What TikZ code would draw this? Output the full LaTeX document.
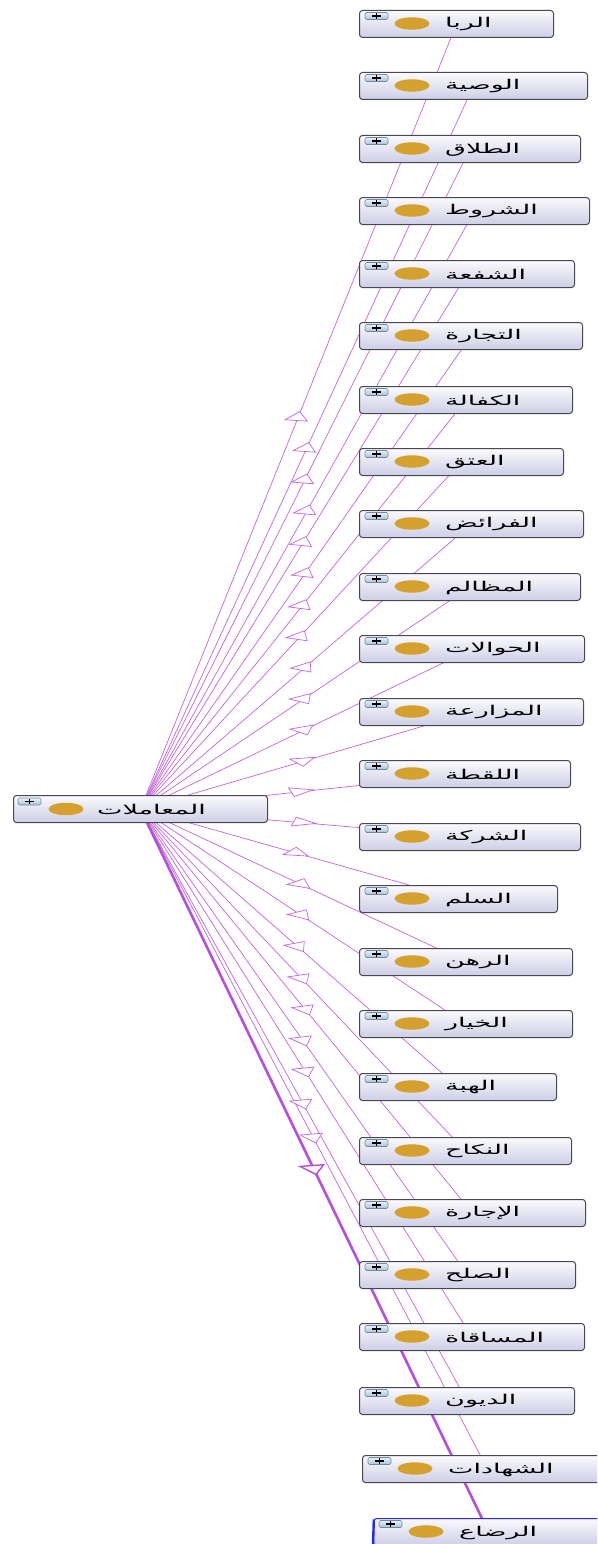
\documentclass[tikz,border=0pt]{standalone}
\usepackage{graphicx}
\usepackage{fontspec}
\newfontfamily\arabicfont[Script=Arabic]{DejaVu Sans}
\TeXXeTstate=1
\usetikzlibrary{calc,shapes.geometric}
\pgfdeclarelayer{back}
\pgfdeclarelayer{edges}
\pgfdeclarelayer{tris}
\pgfsetlayers{back,edges,tris,main}
\definecolor{edgec}{RGB}{195,100,228}
\definecolor{edgethick}{RGB}{182,78,222}
\definecolor{boxborder}{RGB}{72,72,82}
\definecolor{boxtop}{RGB}{250,250,253}
\definecolor{boxbot}{RGB}{206,206,230}
\definecolor{gold}{RGB}{212,160,46}
\definecolor{btntop}{RGB}{232,240,248}
\definecolor{btnbot}{RGB}{168,192,214}
\definecolor{btnborder}{RGB}{112,138,162}
\definecolor{selblue}{RGB}{40,40,250}
\tikzset{
  box/.style={draw=boxborder, line width=1pt, rounded corners=3pt,
    top color=boxtop, bottom color=boxbot, inner sep=0pt, anchor=north west,
    minimum height=27pt},
  btn/.style={draw=btnborder, line width=0.6pt, rounded corners=1.5pt,
    top color=btntop, bottom color=btnbot, inner sep=0pt,
    minimum width=23pt, minimum height=7pt,
    path picture={\draw[line width=1.2pt, black]
      (path picture bounding box.center) +(-4.5,0) -- +(4.5,0)
      (path picture bounding box.center) +(0,-2.6) -- +(0,2.6);}},
  dot/.style={ellipse, fill=gold, draw=none, inner sep=0pt,
    minimum width=35pt, minimum height=12.4pt},
  lbl/.style={anchor=west, inner sep=0pt, text=black,
    font=\arabicfont\fontsize{13.5}{15}\selectfont},
  edge/.style={draw=edgec, line width=0.7pt},
  thickedge/.style={draw=edgethick, line width=2.6pt},
  tri/.style={draw=edgec, line width=0.7pt, fill=white, line join=miter},
  thicktri/.style={draw=edgethick, line width=1.4pt, fill=white, line join=miter}
}
\newcommand{\sx}{2.0}
\begin{document}
\begin{tikzpicture}[x=1pt,y=-1pt]
\useasboundingbox (0,0) rectangle (597,1544);
\begin{pgfonlayer}{back}
\fill[white] (0,0) rectangle (597,1544);
\end{pgfonlayer}
\clip (0,0) rectangle (597,1544);
% root node
\node[box, minimum width=254pt] (root) at (13,795) {};
\node[btn] (rootbtn) at (29.5,801.5) {};
\node[dot] (rootdot) at (66,809) {};
\node[lbl] (roottxt) at (97,810) {\scalebox{\sx}[1]{\beginR المعاملات\endR}};
\foreach \i/\l/\t/\r/\lab in {
  1/359/10/553/{الربا},
  2/359/72/587/{الوصية},
  3/359/135/580/{الطلاق},
  4/359/197/589/{الشروط},
  5/359/260/574/{الشفعة},
  6/359/322/582/{التجارة},
  7/359/386/572/{الكفالة},
  8/359/448/563/{العتق},
  9/359/510/583/{الفرائض},
  10/359/573/580/{المظالم},
  11/359/635/584/{الحوالات},
  12/359/698/583/{المزارعة},
  13/359/760/570/{اللقطة},
  14/359/823/580/{الشركة},
  15/359/885/557/{السلم},
  16/359/948/572/{الرهن},
  17/359/1010/572/{الخيار},
  18/359/1073/556/{الهبة},
  19/359/1137/571/{النكاح},
  20/359/1199/585/{الإجارة},
  21/359/1261/575/{الصلح},
  22/359/1323/584/{المساقاة},
  23/359/1387/574/{الديون},
  24/362/1455/612/{الشهادات},
  25/373/1518/603/{الرضاع}}{
  \pgfmathsetmacro{\bw}{\r-\l}
  \ifnum\i=25
    \node[box, draw=selblue, line width=1.1pt, minimum width=\bw pt] (c\i) at (\l,\t) {};
    \draw[selblue, line width=2.4pt] (c\i.north west) ++(0.8,1.5) -- (c\i.south west);
  \else
    \node[box, minimum width=\bw pt] (c\i) at (\l,\t) {};
  \fi
  \node[btn] (b\i) at ($(c\i.north west)+(17.5,6)$) {};
  \node[dot] (d\i) at ($(c\i.north west)+(53,13.5)$) {};
  \node[lbl] (t\i) at ($(c\i.north west)+(86,14.5)$) {\scalebox{\sx}[1]{\beginR\lab\endR}};
  % arrow triangle geometry (pixel space, stretched by 2.5 horizontally)
  \pgfmathsetmacro{\tcx}{(\l+\r)/2}
  \pgfmathsetmacro{\tcy}{\t+13.5}
  \pgfmathsetmacro{\tmx}{(140+\tcx)/2}
  \pgfmathsetmacro{\tmy}{(808.5+\tcy)/2}
  \pgfmathsetmacro{\tdx}{(\tcx-140)/2.5}
  \pgfmathsetmacro{\tdy}{\tcy-808.5}
  \pgfmathsetmacro{\tvl}{veclen(\tdx,\tdy)}
  \pgfmathsetmacro{\tux}{\tdx/\tvl}
  \pgfmathsetmacro{\tuy}{\tdy/\tvl}
  \ifnum\i=25
    \begin{pgfonlayer}{edges}
      \draw[thickedge] (root.center) -- (c\i.center);
    \end{pgfonlayer}
    \begin{pgfonlayer}{tris}
      \draw[thicktri] ({\tmx+4.5*\tux*2.5},{\tmy+4.5*\tuy})
        -- ({\tmx-4.5*\tux*2.5-4.8*\tuy*2.5},{\tmy-4.5*\tuy+4.8*\tux})
        -- ({\tmx-4.5*\tux*2.5+4.8*\tuy*2.5},{\tmy-4.5*\tuy-4.8*\tux}) -- cycle;
    \end{pgfonlayer}
  \else
    \begin{pgfonlayer}{edges}
      \draw[edge] (root.center) -- (c\i.center);
    \end{pgfonlayer}
    \begin{pgfonlayer}{tris}
      \draw[tri] ({\tmx+4.5*\tux*2.5},{\tmy+4.5*\tuy})
        -- ({\tmx-4.5*\tux*2.5-4.5*\tuy*2.5},{\tmy-4.5*\tuy+4.5*\tux})
        -- ({\tmx-4.5*\tux*2.5+4.5*\tuy*2.5},{\tmy-4.5*\tuy-4.5*\tux}) -- cycle;
    \end{pgfonlayer}
  \fi
}
\end{tikzpicture}
\end{document}
